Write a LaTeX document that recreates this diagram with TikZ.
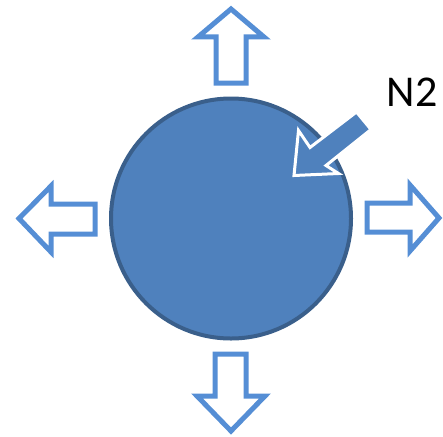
\documentclass[tikz,border=0pt]{standalone}
\usepackage{fontspec}
\setmainfont{Carlito}
\definecolor{circfill}{HTML}{4F81BD}
\definecolor{circline}{HTML}{3A5F8B}
\definecolor{arrline}{HTML}{558ED5}
\begin{document}
\begin{tikzpicture}[x=1pt,y=-1pt,
  blockarrow/.style={draw=arrline,line width=5pt,fill=white,line join=miter},
  ball/.style={circle,draw=circline,line width=4pt,fill=circfill,minimum size=240pt,inner sep=0pt},
  inarrow/.style={draw=white,line width=3pt,fill=circfill,line join=miter},
  lbl/.style={inner sep=0pt,anchor=base west,font=\fontsize{44}{50}\selectfont}]
\useasboundingbox (0,0) rectangle (443,436);
% circle
\node[ball] (c) at (231,218.5) {};
% up arrow
\draw[blockarrow] (231,9) -- (264,37) -- (246,37) -- (246,83) -- (216,83) -- (216,37) -- (198,37) -- cycle;
% down arrow
\draw[blockarrow] (231,431) -- (265,396) -- (246,396) -- (246,354) -- (215,354) -- (215,396) -- (197,396) -- cycle;
% left arrow
\draw[blockarrow] (19,218.5) -- (51,186) -- (51,204) -- (95,204) -- (95,234) -- (51,234) -- (51,252) -- cycle;
% right arrow
\draw[blockarrow] (439,218) -- (410,185) -- (410,203) -- (367,203) -- (367,232) -- (410,232) -- (410,251) -- cycle;
% incoming arrow
\draw[inarrow] (356.5,112) -- (371,129.5) -- (326,165.5) -- (338.5,173.5) -- (294,175.5) -- (298.5,130.5) -- (310,147.5) -- cycle;
% label
\node[lbl] (n2) at (386.5,106.7) {N2};
\end{tikzpicture}
\end{document}
